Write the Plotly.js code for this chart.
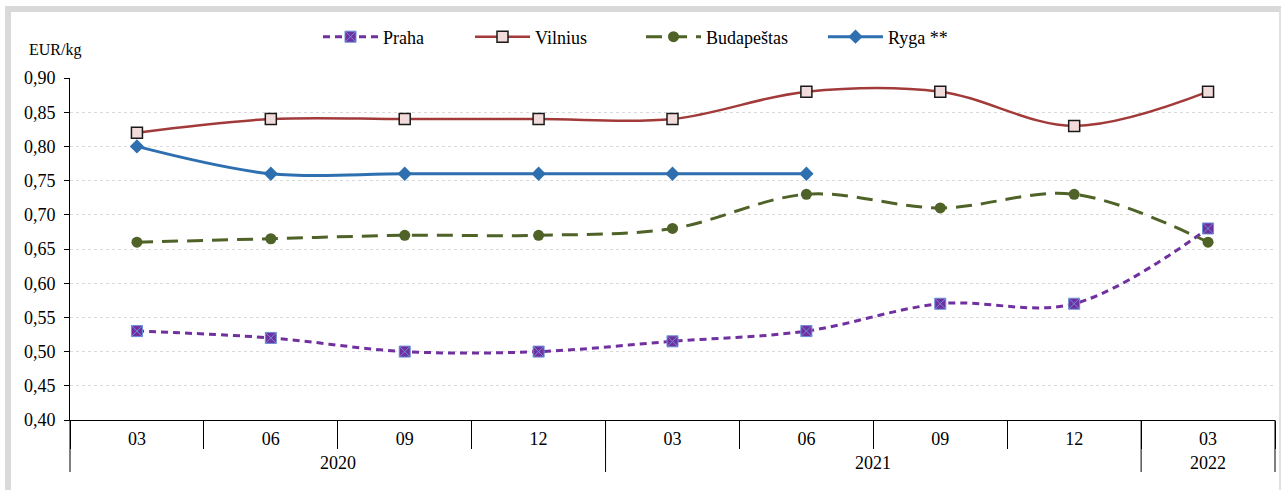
<!DOCTYPE html>
<html><head><meta charset="utf-8">
<script src="https://cdn.plot.ly/plotly-3.0.1.min.js"></script>
<style>
html,body{margin:0;padding:0;background:#fff;}
#frame{position:absolute;left:5px;top:6px;width:1276px;height:484px;border-left:6px solid #d9d9d9;border-top:6px solid #d9d9d9;border-right:2px solid #e0e0e0;box-sizing:border-box;}
#chart{position:absolute;left:0;top:0;width:1287px;height:490px;}
</style></head>
<body>
<div id="frame"></div>
<div id="chart"></div>
<script>
const years = ["2020","2020","2020","2020","2021","2021","2021","2021","2022"];
const months = ["03","06","09","12","03","06","09","12","03"];
const praha = [0.53, 0.52, 0.50, 0.50, 0.515, 0.53, 0.57, 0.57, 0.68];
const vilnius = [0.82, 0.84, 0.84, 0.84, 0.84, 0.88, 0.88, 0.83, 0.88];
const budapestas = [0.66, 0.665, 0.67, 0.67, 0.68, 0.73, 0.71, 0.73, 0.66];
const ryga = [0.80, 0.76, 0.76, 0.76, 0.76, 0.76, null, null, null];

const idx = months.map((m, i) => i);
const FONT = "Liberation Serif";

const traces = [
  {name:"Praha", legend:"legend", x:idx, y:praha, type:"scatter", mode:"lines+markers",
   line:{color:"#7030a0", width:3, dash:"7px,5px", shape:"spline", smoothing:1},
   marker:{symbol:"square-x", size:11, color:"#7030a0", line:{color:"#6a8fd8", width:1}}},
  {name:"Vilnius", legend:"legend2", x:idx, y:vilnius, type:"scatter", mode:"lines+markers",
   line:{color:"#a33a3a", width:2.5, shape:"spline", smoothing:1},
   marker:{symbol:"square", size:11, color:"#f2dcdb", line:{color:"#1a1a1a", width:1.5}}},
  {name:"Budapeštas", legend:"legend3", x:idx, y:budapestas, type:"scatter", mode:"lines+markers",
   line:{color:"#4f6228", width:3, dash:"16px,9px", shape:"spline", smoothing:1},
   marker:{symbol:"circle", size:11, color:"#4f6228"}},
  {name:"Ryga **", legend:"legend4", x:idx, y:ryga, type:"scatter", mode:"lines+markers", connectgaps:false,
   line:{color:"#2e6fb0", width:3, shape:"spline", smoothing:1},
   marker:{symbol:"diamond", size:11, color:"#2e6fb0"}}
];

function leg(px){
  return {orientation:"h", x:(px-70)/1205, xanchor:"left", y:1.12, yanchor:"middle",
          font:{family:FONT, size:18, color:"#000"}, bgcolor:"rgba(0,0,0,0)", itemwidth:55};
}

// group years: boundaries and centers
const groups = [];
years.forEach((y, i) => {
  if (!groups.length || groups[groups.length-1].y !== y) groups.push({y:y, s:i, e:i});
  else groups[groups.length-1].e = i;
});
const n = months.length;
const shapes = [];
const annotations = [];
const boundaries = [-0.5].concat(groups.map(g => g.e + 0.5));
boundaries.forEach(b => shapes.push({type:"line", xref:"paper", yref:"paper", x0:(b+0.5)/n, x1:(b+0.5)/n, y0:0, y1:-0.152,
  line:{color:"#000", width:1}}));
groups.forEach(g => annotations.push({text:g.y, xref:"x", yref:"paper", x:(g.s+g.e)/2, y:-0.125,
  xanchor:"center", yanchor:"middle", showarrow:false, font:{family:FONT, size:18, color:"#000"}}));
annotations.push({text:"EUR/kg", xref:"paper", yref:"paper", x:-0.036, y:1.082, xanchor:"left", yanchor:"middle",
  showarrow:false, font:{family:FONT, size:16, color:"#000"}});

const layout = {
  width:1287, height:490,
  margin:{l:70, r:12, t:78, b:70},
  paper_bgcolor:"rgba(0,0,0,0)", plot_bgcolor:"rgba(0,0,0,0)",
  separators:",.",
  font:{family:FONT, size:18, color:"#000"},
  showlegend:true,
  legend:leg(318), legend2:leg(470), legend3:leg(641), legend4:leg(823),
  xaxis:{range:[-0.5, n-0.5], tickvals:idx, ticktext:months, ticks:"", showline:true, linecolor:"#000", linewidth:1,
         ticklabelstandoff:2,
         minor:{tickvals:[-0.5].concat(idx.map(i=>i+0.5)), ticks:"outside", ticklen:28, tickcolor:"#000", showgrid:false},
         showgrid:false, zeroline:false, tickfont:{family:FONT, size:18, color:"#000"}},
  yaxis:{range:[0.40,0.90], dtick:0.05, tick0:0.40, tickformat:".2f", ticklabelstandoff:5,
         showline:true, linecolor:"#000", linewidth:1, ticks:"outside", ticklen:5, tickcolor:"#000",
         showgrid:true, gridcolor:"#d9d9d9", griddash:"dot", gridwidth:1, zeroline:false,
         tickfont:{family:FONT, size:18, color:"#000"}},
  shapes:shapes,
  annotations:annotations
};
Plotly.newPlot("chart", traces, layout, {displayModeBar:false});
</script>
</body></html>
